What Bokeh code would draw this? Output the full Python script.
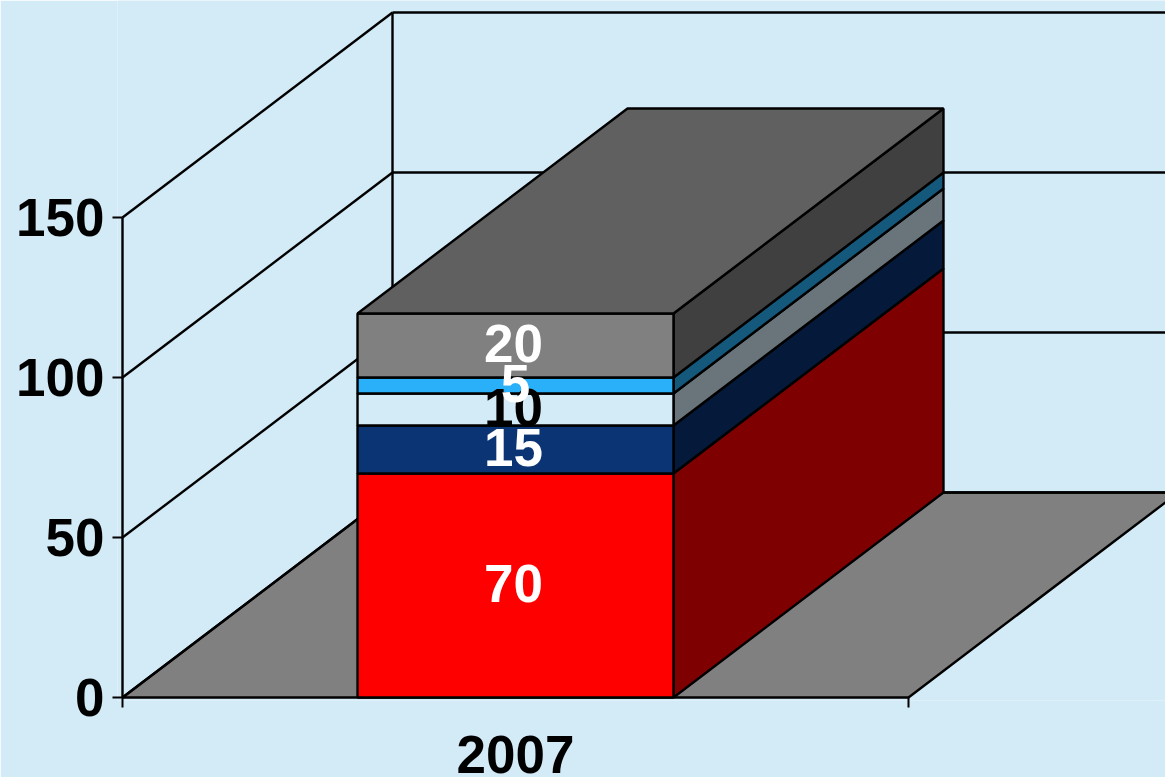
from bokeh.embed import file_html
from bokeh.resources import INLINE
from bokeh.plotting import figure
from bokeh.models import FixedTicker, Range1d
from bokeh.core.properties import value

# data
category = "2007"
values = [70, 15, 10, 5, 20]
front_colors = ["#FF0000", "#0A3474", "#D3EAF7", "#29B0F8", "#808080"]
side_colors = ["#7F0000", "#051A3A", "#69757B", "#14587C", "#404040"]
label_colors = ["#FFFFFF", "#FFFFFF", "#000000", "#FFFFFF", "#FFFFFF"]
y_ticks = [0, 50, 100, 150]
top_color = "#606060"
floor_color = "#808080"
bg = "#D3EAF7"

# projection of the chart's depth axis, in data units
bar_x0, bar_x1 = 0.299, 0.701
depth_x = 270 / 786
depth_y = 205 / 3.2

W, H = 1165, 777
PAD_L, PAD_B = 5, 3   # frame slightly larger than the axes, so edge lines are not clipped
p = figure(width=W, height=H, output_backend="svg", toolbar_location=None,
           x_range=Range1d(-PAD_L / 786, (1165 - 122) / 786),
           y_range=Range1d(-PAD_B / 3.2, 697 / 3.2),
           min_border_left=122 - PAD_L, min_border_right=0, min_border_top=0,
           min_border_bottom=777 - 697 - PAD_B,
           background_fill_color=bg, border_fill_color=bg, outline_line_color=None)
p.grid.visible = False

FONT = "Liberation Sans"
ya = p.yaxis[0]
ya.ticker = FixedTicker(ticks=y_ticks)
ya.axis_line_color = None
ya.major_tick_in = PAD_L
ya.major_tick_out = 10 - PAD_L
ya.major_tick_line_color = "#000000"
ya.major_tick_line_width = 2
ya.minor_tick_line_color = None
ya.major_label_text_font = FONT
ya.major_label_text_font_style = "bold"
ya.major_label_text_font_size = "53px"
ya.major_label_text_color = "#000000"
ya.major_label_standoff = 8

xa = p.xaxis[0]
xa.ticker = FixedTicker(ticks=[0.5], minor_ticks=[0, 1])
xa.major_label_overrides = {0.5: category}
xa.axis_line_color = None
xa.major_tick_line_color = None
xa.major_tick_in = 0
xa.major_tick_out = 0
xa.minor_tick_in = PAD_B
xa.minor_tick_out = 10 - PAD_B
xa.minor_tick_line_color = "#000000"
xa.minor_tick_line_width = 2
xa.major_label_text_font = FONT
xa.major_label_text_font_style = "bold"
xa.major_label_text_font_size = "53px"
xa.major_label_text_color = "#000000"
xa.major_label_standoff = 28

LW = 2.4
ymax = max(y_ticks)
xend = 1 + depth_x

# floor
p.patch([0, 1, xend, depth_x], [0, 0, depth_y, depth_y], fill_color=floor_color,
        line_color="#000000", line_width=LW)
# walls: frame lines and gridlines
p.line([0, 0], [0, ymax], line_color="#000000", line_width=LW)
p.line([depth_x, depth_x], [depth_y, ymax + depth_y], line_color="#000000", line_width=LW)
for v in y_ticks:
    p.line([0, depth_x], [v, v + depth_y], line_color="#000000", line_width=LW)
    p.line([depth_x, xend + 0.2], [v + depth_y, v + depth_y], line_color="#000000", line_width=LW)

# stacked 3D bar
base = 0
for val, fc, sc in zip(values, front_colors, side_colors):
    top = base + val
    p.patch([bar_x1, bar_x1 + depth_x, bar_x1 + depth_x, bar_x1],
            [base, base + depth_y, top + depth_y, top],
            fill_color=sc, line_color="#000000", line_width=LW)
    p.patch([bar_x0, bar_x1, bar_x1, bar_x0], [base, base, top, top],
            fill_color=fc, line_color="#000000", line_width=LW)
    base = top
p.patch([bar_x0, bar_x1, bar_x1 + depth_x, bar_x0 + depth_x],
        [base, base, base + depth_y, base + depth_y],
        fill_color=top_color, line_color="#000000", line_width=LW)

# value labels
base = 0
for val, lc in zip(values, label_colors):
    p.text([0.5], [base + val / 2], text=[str(val)], text_color=lc,
           text_font=value(FONT), text_font_style="bold", text_font_size="53px",
           text_align="center", text_baseline="middle",
           x_offset=-2 if val >= 10 else 0, y_offset=-2)
    base += val

html = file_html(p, INLINE)
html = html.replace("<body>", f'<body style="margin:0;background:{bg}">', 1)
open("out.html", "w").write(html)
